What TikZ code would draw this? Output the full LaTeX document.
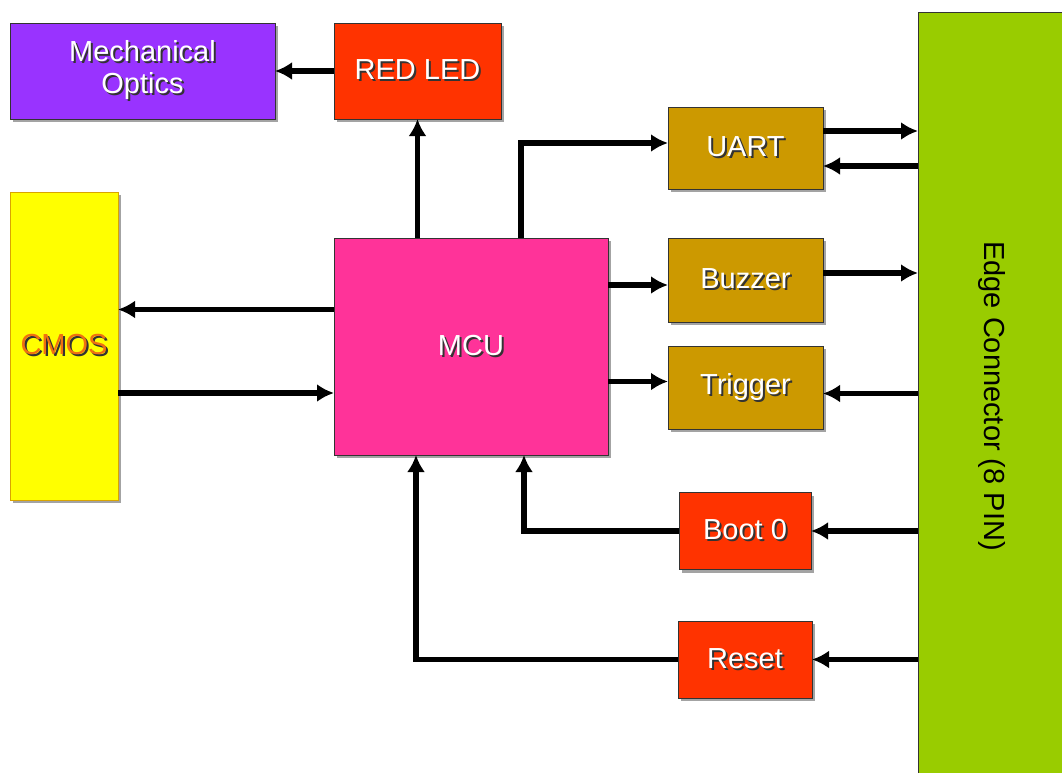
\documentclass[tikz,border=0pt]{standalone}
\usepackage{fontspec}
\setmainfont{Liberation Sans}
\usetikzlibrary{arrows.meta,shadows}

\definecolor{opticsviolet}{HTML}{9933FF}
\definecolor{ledred}{HTML}{FF3300}
\definecolor{mcupink}{HTML}{FF3399}
\definecolor{portgold}{HTML}{CC9900}
\definecolor{cmosyellow}{HTML}{FFFF00}
\definecolor{cmosrim}{HTML}{D9A400}
\definecolor{cmosorange}{HTML}{F07010}
\definecolor{edgegreen}{HTML}{99CC00}

% white label with a dark drop shadow
\newcommand{\shtext}[2][white]{\makebox[0pt][l]{\hspace{2pt}\raisebox{-2pt}{\color{black!80}#2}}{\color{#1}#2}}

\begin{document}
\begin{tikzpicture}[x=1pt,y=-1pt,>={Latex[length=17pt,width=18pt]},
  box/.style={draw=black!80,line width=0.8pt,inner sep=0pt,outer sep=0pt,
    drop shadow={shadow xshift=3pt,shadow yshift=-3pt,fill=black!45,opacity=0.8},
    font=\fontsize{29}{32}\selectfont,align=center},
  link/.style={->,line width=5.5pt}]
  \useasboundingbox (0,0) rectangle (1062,773);
  \fill[white] (0,0) rectangle (1062,773);
  % blocks
  \node[box,fill=opticsviolet,minimum width=265pt,minimum height=96pt] (optics) at (142.5,71) {\shtext{Mechanical}\\\shtext{Optics}};
  \node[box,fill=ledred,minimum width=167pt,minimum height=96pt] (redled) at (417.5,71) {\shtext{RED LED}};
  \node[box,draw=cmosrim,fill=cmosyellow,minimum width=108pt,minimum height=308pt] (cmos) at (64,346) {\shtext[cmosorange]{CMOS}};
  \node[box,fill=mcupink,minimum width=274pt,minimum height=217pt] (mcu) at (471,346.5) {\shtext{MCU}};
  \node[box,fill=portgold,minimum width=155pt,minimum height=82pt] (uart) at (745.5,148) {\shtext{UART}};
  \node[box,fill=portgold,minimum width=155pt,minimum height=84pt] (buzzer) at (745.5,280) {\shtext{Buzzer}};
  \node[box,fill=portgold,minimum width=155pt,minimum height=83pt] (trigger) at (745.5,387.5) {\shtext{Trigger}};
  \node[box,fill=ledred,minimum width=132pt,minimum height=77pt] (boot) at (745,531) {\shtext{Boot 0}};
  \node[box,fill=ledred,minimum width=134pt,minimum height=77pt] (reset) at (745,659.5) {\shtext{Reset}};
  \node[box,fill=edgegreen,minimum width=152pt,minimum height=768pt] (edge) at (994,396) {};
  \node[rotate=-90,font=\fontsize{29}{32}\selectfont] (edgelabel) at (992,396) {Edge Connector (8 PIN)};
  % signals
  \draw[link] (redled.west) -- (optics.east);
  \draw[link] (redled.south |- mcu.north) -- (redled.south);
  \draw[link] ([yshift=37pt]mcu.west) -- ([yshift=37pt]mcu.west -| cmos.east);
  \draw[link] ([yshift=-47pt]cmos.east) -- ([yshift=-47pt]cmos.east -| mcu.west);
  \draw[link] ([xshift=50pt]mcu.north) |- ([yshift=5pt]uart.west);
  \draw[link] ([yshift=17pt]uart.east) -- ([yshift=17pt]uart.east -| edge.west);
  \draw[link] ([yshift=-18pt]uart.east -| edge.west) -- ([yshift=-18pt]uart.east);
  \draw[link] ([yshift=-5pt]buzzer.west -| mcu.east) -- ([yshift=-5pt]buzzer.west);
  \draw[link] ([yshift=7pt]buzzer.east) -- ([yshift=7pt]buzzer.east -| edge.west);
  \draw[link] ([yshift=6pt]trigger.west -| mcu.east) -- ([yshift=6pt]trigger.west);
  \draw[link] ([yshift=-6pt]trigger.east -| edge.west) -- ([yshift=-6pt]trigger.east);
  \draw[link] (boot.east -| edge.west) -- (boot.east);
  \draw[link] (boot.west) -| ([xshift=53pt]mcu.south);
  \draw[link] (reset.east -| edge.west) -- (reset.east);
  \draw[link] (reset.west) -| ([xshift=-55pt]mcu.south);
\end{tikzpicture}
\end{document}
